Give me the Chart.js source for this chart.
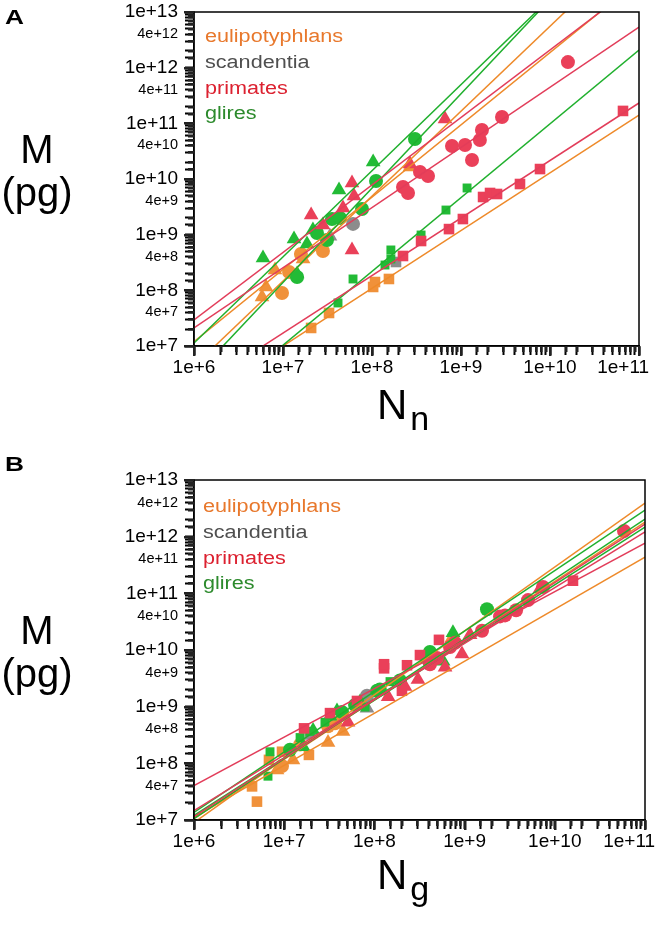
<!DOCTYPE html>
<html>
<head>
<meta charset="utf-8">
<script src="https://cdn.jsdelivr.net/npm/chart.js@4.4.1/dist/chart.umd.min.js"></script>
<style>
body { margin: 0; width: 661px; height: 933px; background: #fff; position: relative; overflow: hidden; font-family: 'Liberation Sans', Arial, sans-serif; }
canvas { position: absolute; left: 0; }
#chartA { top: 0; }
#chartB { top: 466px; }
.txt { position: absolute; white-space: nowrap; color: #000; }
.panel { left: 5px; font-weight: bold; font-size: 21px; line-height: 21px; transform: scaleX(1.25); transform-origin: 0 0; }
.ylab { left: 0; width: 74px; text-align: center; font-size: 40px; line-height: 42px; }
.xlab { font-size: 42px; line-height: 42px; }
.xlab .sub { font-size: 34px; position: relative; top: 11px; margin-left: 3px; }
.legend { font-size: 18px; line-height: 25.8px; transform: scaleX(1.2); transform-origin: 0 0; }
</style>
</head>
<body>
<canvas id="chartA" width="661" height="400"></canvas>
<canvas id="chartB" width="661" height="467"></canvas>

<div class="txt panel" style="top:6px">A</div>
<div class="txt ylab" style="top:128px">M</div>
<div class="txt ylab" style="top:171px">(pg)</div>
<div class="txt xlab" style="left:377px; top:384px">N<span class="sub">n</span></div>
<div class="txt legend" style="left:205px; top:24px">
  <div style="color:#E8782C">eulipotyphlans</div>
  <div style="color:#4f4f4f">scandentia</div>
  <div style="color:#DC2130">primates</div>
  <div style="color:#2C8A2C">glires</div>
</div>

<div class="txt panel" style="top:453px">B</div>
<div class="txt ylab" style="top:609px">M</div>
<div class="txt ylab" style="top:652px">(pg)</div>
<div class="txt xlab" style="left:377px; top:854px">N<span class="sub">g</span></div>
<div class="txt legend" style="left:203px; top:494px">
  <div style="color:#E8782C">eulipotyphlans</div>
  <div style="color:#4f4f4f">scandentia</div>
  <div style="color:#DC2130">primates</div>
  <div style="color:#2C8A2C">glires</div>
</div>

<script>
// ========== DATA ==========
// M = mass (pg); Nn = neurons (panel A); Ng = other cells (panel B)
const xTickLabels = ['1e+6', '1e+7', '1e+8', '1e+9', '1e+10', '1e+11'];
const yTickLabels = ['1e+7', '4e+7', '1e+8', '4e+8', '1e+9', '4e+9', '1e+10', '4e+10',
                     '1e+11', '4e+11', '1e+12', '4e+12', '1e+13'];
const xRange = [1e6, 1e11];
const yRange = [1e7, 1e13];

// eulipotyphlans
const eulCircM  = [8.96e7, 2.14e8, 4.5e8, 5.09e8];
const eulCircNn = [9.75e6, 1.17e7, 1.59e7, 2.81e7];
const eulCircNg = [9.46e6, 1.50e7, 3.06e7, 3.66e7];
const eulTriM   = [7.6e7, 1.15e8, 2.32e8, 3.66e8, 1.64e10];
const eulTriNn  = [5.81e6, 6.44e6, 8.13e6, 1.68e7, 2.67e8];
const eulTriNg  = [8.32e6, 1.25e7, 3.06e7, 4.49e7, 7.25e8];
const eulSqM    = [2.11e7, 3.92e7, 1.15e8, 1.41e8, 1.6e8];
const eulSqNn   = [2.07e7, 3.29e7, 1.03e8, 1.08e8, 1.55e8];
const eulSqNg   = [4.99e6, 4.40e6, 6.78e6, 1.88e7, 9.46e6];

// scandentia
const scaCircM  = [1.56e9];
const scaCircNn = [6.12e7];
const scaCircNg = [8.28e7];
const scaTriM   = [9.33e8];
const scaTriNn  = [3.37e7];
const scaTriNg  = [8.28e7];
const scaSqM    = [3.23e8];
const scaSqNn   = [1.86e8];
const scaSqNg   = [1.93e7];

// primates
const priCircM  = [7.19e9, 5.61e9, 1.34e10, 1.13e10, 3.92e10, 4.08e10, 2.19e10, 5.02e10, 7.59e10, 1.3e11, 1.26e12];
const priCircNn = [2.23e8, 2.54e8, 3.46e8, 4.26e8, 7.92e8, 1.11e9, 1.33e9, 1.63e9, 1.72e9, 2.89e9, 1.59e10];
const priCircNg = [4.94e8, 4.13e8, 7.83e8, 6.89e8, 2.47e9, 2.81e9, 1.56e9, 3.72e9, 5.05e9, 7.40e9, 5.85e10];
const priTriM   = [2.26e9, 1.49e9, 3.01e9, 8.48e9, 4.95e9, 5.31e8, 1.2e11, 1.86e10];
const priTriNn  = [2.07e7, 2.81e7, 4.72e7, 5.96e7, 6.28e7, 5.96e7, 6.61e8, 2.67e8];
const priTriNg  = [2.18e8, 1.42e8, 3.04e8, 9.35e8, 6.07e8, 5.10e7, 6.85e9, 1.15e9];
const priSqM    = [4.14e8, 7.69e8, 1.26e9, 1.91e9, 4.75e9, 5.61e9, 5.38e9, 8.13e9, 1.51e10, 1.67e11];
const priSqNn   = [2.23e8, 3.56e8, 7.33e8, 1.05e9, 1.77e9, 2.12e9, 2.54e9, 4.60e9, 7.72e9, 6.61e10];
const priSqNg   = [1.66e7, 3.22e7, 6.41e7, 2.02e8, 1.28e8, 1.28e8, 2.30e8, 3.20e8, 5.20e8, 1.59e10];

// glires
const gliCircM  = [1.74e8, 1.07e9, 8.02e8, 1.91e9, 2.0e9, 2.89e9, 9.2e9, 5.23e10];
const gliCircNn = [1.44e7, 2.41e7, 3.12e7, 3.55e7, 4.37e7, 7.72e7, 1.11e8, 3.04e8];
const gliCircNg = [1.16e7, 6.10e7, 4.37e7, 1.07e8, 1.15e8, 1.92e8, 4.13e8, 1.77e9];
const gliTriM   = [3.81e8, 8.36e8, 1.97e8, 6.8e8, 1.21e9, 6.35e9, 2.02e10];
const gliTriNn  = [5.96e6, 1.33e7, 1.44e7, 1.86e7, 2.17e7, 4.26e7, 1.03e8];
const gliTriNg  = [2.09e7, 3.85e7, 1.62e7, 3.22e7, 6.92e7, 5.77e8, 7.43e8];
const gliSqM    = [5.93e7, 1.6e8, 2.85e8, 5.31e8, 3.66e8, 9.86e8, 2.77e9, 6.9e9];
const gliSqNn   = [4.15e7, 6.12e7, 1.4e8, 1.63e8, 1.63e8, 3.56e8, 6.78e8, 1.17e9];
const gliSqNg   = [6.61e6, 6.96e6, 1.50e7, 2.83e7, 1.93e7, 7.87e7, 1.49e8, 3.64e8];

// power-law fits: M at x = 1e6 and at x = 1e11
const eulFitA = [[1.20e7, 3.71e13], [4.37e6, 1.86e14], [9.17e5, 1.41e11]];
const priFitA = [[2.93e7, 3.39e13], [2.11e7, 5.37e12], [1.58e6, 2.32e11]];
const gliFitA = [[1.13e7, 6.17e14], [2.80e6, 8.32e14], [4.89e5, 2.07e12]];
const eulFitB = [[9.02e6, 3.92e12], [1.06e7, 1.81e12], [1.11e7, 4.36e11]];
const priFitB = [[4.06e7, 7.71e11], [1.15e7, 1.67e12], [1.47e7, 1.21e12]];
const gliFitB = [[1.36e7, 2.95e12], [1.20e7, 1.48e12], [1.06e7, 2.05e12]];

// ========== STYLE ==========
const COL = {
    eul: { dot: '#F0913A', line: '#EE8A2A' },
    sca: { dot: '#8C8C8C', line: '#8C8C8C' },
    pri: { dot: '#EA4059', line: '#E23D5A' },
    gli: { dot: '#22BB36', line: '#20B02E' }
};
const FONT = "'Liberation Sans', Arial, sans-serif";
const TICK_COLOR = '#222';

function pts(xs, ys) {
    return xs.map((x, i) => ({ x: x, y: ys[i] }));
}

function markers(xs, ys, color, style, radius, order) {
    return {
        data: pts(xs, ys),
        pointStyle: style,
        pointRadius: radius,
        pointHoverRadius: radius,
        backgroundColor: color,
        borderWidth: 0,
        order: order
    };
}

function fits(list, color) {
    return list.map(ends => ({
        data: pts(xRange, ends),
        showLine: true,
        borderColor: color,
        borderWidth: 1.5,
        pointRadius: 0,
        order: 0
    }));
}

function tickText(v) {
    const e = Math.floor(Math.log10(v) + 1e-9);
    const s = Math.round(v / Math.pow(10, e));
    return s + 'e+' + e;
}

function isDecade(v) {
    return tickText(v).charAt(0) === '1';
}

// ========== PLUGINS ==========
// box round the plot
const framePlugin = {
    id: 'frame',
    afterDraw(chart) {
        const ctx = chart.ctx;
        const a = chart.chartArea;
        ctx.save();
        ctx.strokeStyle = '#000';
        ctx.lineWidth = 1.5;
        ctx.strokeRect(a.left, a.top, a.right - a.left, a.bottom - a.top);
        ctx.restore();
    }
};

// long decade ticks and short minor ticks, drawn once rendering is done
const tickPlugin = {
    id: 'tickMarks',
    afterRender(chart) {
        const ctx = chart.ctx;
        const a = chart.chartArea;
        const sx = chart.scales.x;
        const sy = chart.scales.y;
        ctx.save();
        ctx.setTransform(1, 0, 0, 1, 0, 0);
        ctx.globalCompositeOperation = 'source-over';
        ctx.globalAlpha = 1;
        ctx.fillStyle = TICK_COLOR;
        sx.ticks.forEach(t => {
            const px = Math.round(sx.getPixelForValue(t.value));
            ctx.fillRect(px - 1, Math.round(a.bottom), 2.5, isDecade(t.value) ? 10 : 6);
        });
        sy.ticks.forEach(t => {
            const py = Math.round(sy.getPixelForValue(t.value));
            const len = isDecade(t.value) ? 10 : 6;
            ctx.fillRect(Math.round(a.left) - len, py - 1, len, 2.5);
        });
        ctx.restore();
    }
};

function scaleOpts(range, isY, fitSize) {
    return {
        type: 'logarithmic',
        min: range[0],
        max: range[1],
        border: { color: '#000', width: 1.5 },
        grid: {
            drawOnChartArea: false,
            tickLength: 9,
            tickWidth: 2,
            tickColor: '#000'
        },
        ticks: {
            autoSkip: false,
            maxRotation: 0,
            color: '#000',
            padding: isY ? 7 : 1,
            font: c => ({ family: FONT, size: (c.tick && isDecade(c.tick.value)) ? 19 : 14.5 }),
            callback: v => {
                const t = tickText(v);
                if (isY) return yTickLabels.includes(t) ? t : '';
                if (!xTickLabels.includes(t)) return '';
                // last label sits left of its tick, as in the figure
                return t === xTickLabels[xTickLabels.length - 1] ? t + '      ' : t;
            }
        },
        afterFit: s => {
            if (isY) { s.width = fitSize; s.paddingTop = 0; s.paddingBottom = 0; }
            else { s.height = fitSize; s.paddingLeft = 0; s.paddingRight = 0; }
        }
    };
}

function buildChart(id, xKey, padding, xHeight) {
    const useNn = xKey === 'Nn';
    const datasets = [].concat(
        fits(useNn ? priFitA : priFitB, COL.pri.line),
        fits(useNn ? gliFitA : gliFitB, COL.gli.line),
        fits(useNn ? eulFitA : eulFitB, COL.eul.line),
        markers(useNn ? priCircNn : priCircNg, priCircM, COL.pri.dot, 'circle', 7, 1),
        markers(useNn ? priTriNn : priTriNg, priTriM, COL.pri.dot, 'triangle', 8.5, 1),
        markers(useNn ? priSqNn : priSqNg, priSqM, COL.pri.dot, 'rect', 7.5, 1),
        markers(useNn ? gliCircNn : gliCircNg, gliCircM, COL.gli.dot, 'circle', 7, 2),
        markers(useNn ? gliTriNn : gliTriNg, gliTriM, COL.gli.dot, 'triangle', 8.5, 2),
        markers(useNn ? gliSqNn : gliSqNg, gliSqM, COL.gli.dot, 'rect', 6.3, 2),
        markers(useNn ? eulCircNn : eulCircNg, eulCircM, COL.eul.dot, 'circle', 7, 3),
        markers(useNn ? eulTriNn : eulTriNg, eulTriM, COL.eul.dot, 'triangle', 8.5, 3),
        markers(useNn ? eulSqNn : eulSqNg, eulSqM, COL.eul.dot, 'rect', 7.5, 3),
        markers(useNn ? scaCircNn : scaCircNg, scaCircM, COL.sca.dot, 'circle', 7, 4),
        markers(useNn ? scaTriNn : scaTriNg, scaTriM, COL.sca.dot, 'triangle', 8.5, 4),
        markers(useNn ? scaSqNn : scaSqNg, scaSqM, COL.sca.dot, 'rect', 7.5, 4)
    );

    return new Chart(document.getElementById(id), {
        type: 'scatter',
        data: { datasets: datasets },
        options: {
            responsive: false,
            animation: false,
            events: [],
            layout: { padding: padding },
            plugins: { legend: { display: false }, tooltip: { enabled: false } },
            scales: {
                x: scaleOpts(xRange, false, xHeight),
                y: scaleOpts(yRange, true, 194)
            }
        },
        plugins: [framePlugin, tickPlugin]
    });
}

// ========== INITIALIZATION ==========
buildChart('chartA', 'Nn', { top: 12, right: 22, bottom: 0, left: 0 }, 54);
buildChart('chartB', 'Ng', { top: 14, right: 16, bottom: 0, left: 0 }, 113);
</script>
</body>
</html>
